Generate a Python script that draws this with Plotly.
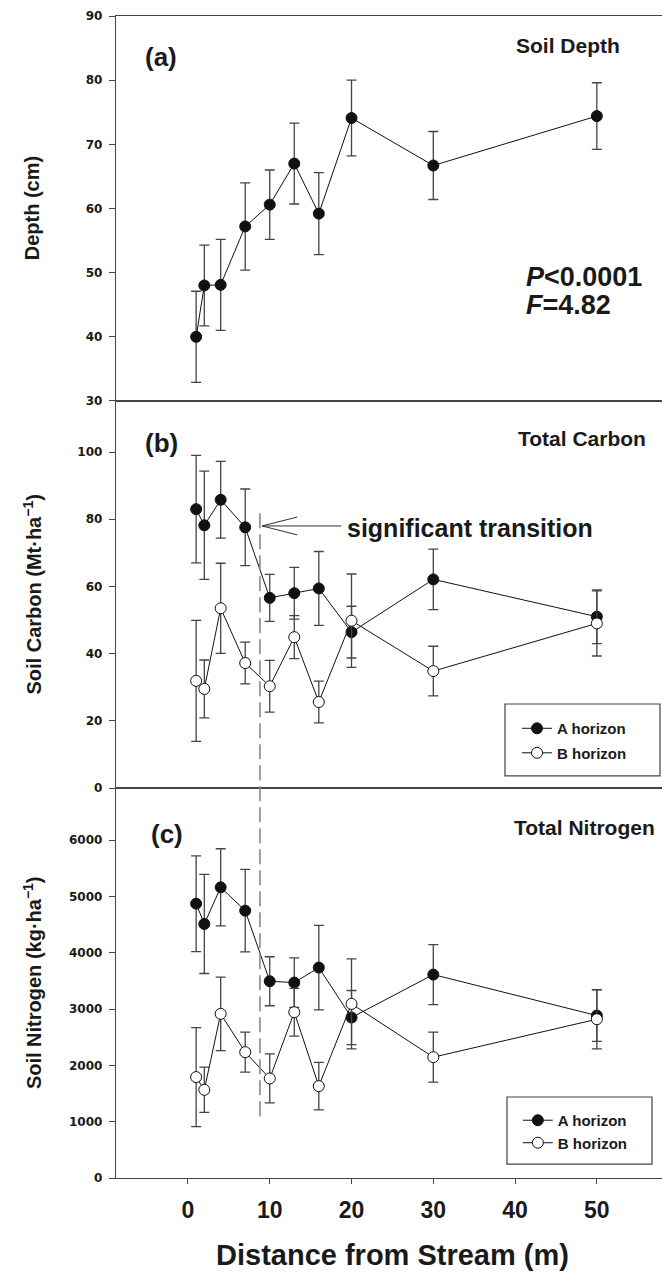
import plotly.graph_objects as go

# ---------------- data ----------------
distance = [1, 2, 4, 7, 10, 13, 16, 20, 30, 50]

depth_mean = [40.0, 48.0, 48.1, 57.2, 60.6, 67.0, 59.2, 74.1, 66.7, 74.4]
depth_err = [7.1, 6.3, 7.1, 6.8, 5.4, 6.3, 6.4, 5.9, 5.3, 5.2]

carbon_a = [83.0, 78.2, 85.8, 77.6, 56.6, 58.0, 59.4, 46.4, 62.1, 51.0]
carbon_a_err = [16.0, 16.1, 11.4, 11.4, 7.0, 7.7, 11.0, 7.7, 9.0, 8.0]
carbon_b = [31.9, 29.5, 53.5, 37.2, 30.3, 44.9, 25.6, 49.8, 34.8, 49.0]
carbon_b_err = [18.0, 8.6, 13.4, 6.2, 7.7, 6.4, 6.2, 13.9, 7.4, 9.7]

nitrogen_a = [4870, 4510, 5160, 4746, 3493, 3469, 3735, 2849, 3611, 2884]
nitrogen_a_err = [850, 880, 685, 733, 435, 440, 750, 480, 532, 458]
nitrogen_b = [1791, 1566, 2914, 2234, 1767, 2943, 1631, 3091, 2145, 2819]
nitrogen_b_err = [878, 402, 653, 355, 435, 425, 420, 800, 444, 526]

x_ticks = [0, 10, 20, 30, 40, 50]
depth_ticks = [30, 40, 50, 60, 70, 80, 90]
carbon_ticks = [0, 20, 40, 60, 80, 100]
nitrogen_ticks = [0, 1000, 2000, 3000, 4000, 5000, 6000]

transition_x = 8.8
transition_top_carbon = 81.8
transition_bottom_nitrogen = 1030

# ---------------- styling ----------------
AX = "#444444"
BOLD_ARIAL = dict(family="Liberation Sans, Arial", weight="bold", color="#1a1a1a")
BOLD_WIDE = dict(family="DejaVu Sans, Verdana", weight="bold", color="#1a1a1a", size=12)

x_range = [-8.8, 58.7]
rng_a, rng_b, rng_c = [30, 90], [0, 115.2], [0, 6923]
dom_a, dom_b, dom_c = [0.6687, 1.0], [0.3356, 0.6687], [0.0, 0.3356]


def to_paper(v, rng, dom):
    return dom[0] + (v - rng[0]) / (rng[1] - rng[0]) * (dom[1] - dom[0])


fig = go.Figure()


def add_series(y, err, xa, ya, filled, name=None, legend=None, group=None):
    fig.add_trace(go.Scatter(
        x=distance, y=y, xaxis=xa, yaxis=ya,
        mode="lines+markers",
        name=name,
        showlegend=name is not None,
        legend=legend,
        legendgroup=group,
        line=dict(color="#111111", width=1),
        marker=dict(size=11, color="#111111" if filled else "white",
                    line=dict(color="#111111", width=1)),
        error_y=dict(type="data", array=err, visible=True,
                     color="#444444", thickness=1.3, width=5),
    ))


add_series(depth_mean, depth_err, "x", "y", True)
add_series(carbon_a, carbon_a_err, "x2", "y2", True, "A horizon", "legend", "ga")
add_series(carbon_b, carbon_b_err, "x2", "y2", False, "B horizon", "legend", "gb")
add_series(nitrogen_a, nitrogen_a_err, "x3", "y3", True, "A horizon", "legend2", "gc")
add_series(nitrogen_b, nitrogen_b_err, "x3", "y3", False, "B horizon", "legend2", "gd")

common_x = dict(range=x_range, showline=True, mirror=True, linecolor=AX, linewidth=1.4,
                showgrid=False, zeroline=False, tickvals=x_ticks, automargin=False)
common_y = dict(showline=True, mirror=True, linecolor=AX, linewidth=1.4,
                showgrid=False, zeroline=False, ticks="outside", ticklen=6,
                tickcolor=AX, tickwidth=1.2, tickfont=BOLD_WIDE, ticklabelstandoff=4,
                automargin=False)

fig.update_layout(
    xaxis=dict(common_x, domain=[0, 1], anchor="y", showticklabels=False, ticks=""),
    xaxis2=dict(common_x, domain=[0, 1], anchor="y2", showticklabels=False, ticks=""),
    xaxis3=dict(common_x, domain=[0, 1], anchor="y3", ticks="outside", ticklen=5,
                tickcolor=AX, tickwidth=1.2,
                tickfont=dict(BOLD_ARIAL, size=23), ticklabelstandoff=6),
    yaxis=dict(common_y, domain=dom_a, range=rng_a, tickvals=depth_ticks, anchor="x"),
    yaxis2=dict(common_y, domain=dom_b, range=rng_b, tickvals=carbon_ticks, anchor="x2"),
    yaxis3=dict(common_y, domain=dom_c, range=rng_c, tickvals=nitrogen_ticks, anchor="x3"),
)

# legends
legend_font = dict(BOLD_ARIAL, size=15)
fig.update_layout(
    legend=dict(x=0.7265, y=0.4010, xanchor="left", yanchor="top", bgcolor="rgba(0,0,0,0)",
                borderwidth=0, font=legend_font, tracegroupgap=2),
    legend2=dict(x=0.7280, y=0.0637, xanchor="left", yanchor="top", bgcolor="rgba(0,0,0,0)",
                 borderwidth=0, font=legend_font, tracegroupgap=0),
)

shapes = [
    # legend frames
    dict(type="rect", xref="paper", yref="paper", x0=0.7047, x1=0.9855, y0=0.3460, y1=0.4079,
         line=dict(color=AX, width=1.2), fillcolor="white", layer="below"),
    dict(type="rect", xref="paper", yref="paper", x0=0.7083, x1=0.9710, y0=0.0120, y1=0.0697,
         line=dict(color=AX, width=1.2), fillcolor="white", layer="below"),
    # dashed transition line across panels b and c
    dict(type="line", xref="x", yref="paper", x0=transition_x, x1=transition_x,
         y0=to_paper(transition_top_carbon, rng_b, dom_b),
         y1=to_paper(transition_bottom_nitrogen, rng_c, dom_c),
         line=dict(color="#888888", width=1.6, dash="15px,6px")),
]
# open arrow pointing to transition
arrow_y = 78.0
shapes += [
    dict(type="line", xref="x2", yref="y2", x0=9.07, x1=18.75, y0=arrow_y, y1=arrow_y,
         line=dict(color="#333333", width=1)),
    dict(type="line", xref="x2", yref="y2", x0=9.07, x1=13.36, y0=arrow_y, y1=arrow_y + 2.65,
         line=dict(color="#333333", width=1)),
    dict(type="line", xref="x2", yref="y2", x0=9.07, x1=13.36, y0=arrow_y, y1=arrow_y - 2.65,
         line=dict(color="#333333", width=1)),
]
fig.update_layout(shapes=shapes)


def ann(text, x, y, size, xanchor="left", xref="paper", yref="paper", angle=0, font=None,
        yanchor="middle"):
    f = dict(font or BOLD_ARIAL, size=size)
    return dict(text=text, x=x, y=y, xref=xref, yref=yref, xanchor=xanchor,
                yanchor=yanchor, showarrow=False, textangle=angle, font=f)


annotations = [
    ann("(a)", 0.0489, 0.9647, 26),
    ann("(b)", 0.0489, 0.6325, 26),
    ann("(c)", 0.0598, 0.2960, 26),
    ann("Soil Depth", 0.7210, 0.9742, 21),
    ann("Total Carbon", 0.7246, 0.6368, 21),
    ann("Total Nitrogen", 0.7174, 0.3020, 21),
    ann("<i>P</i>&lt;0.0001", 0.7390, 0.7754, 27),
    ann("<i>F</i>=4.82", 0.7390, 0.7513, 27),
    ann("significant transition", 19.24, 77.4, 25, xref="x2", yref="y2"),
    ann("Depth (cm)", -0.152, 0.8346, 20, xanchor="center", angle=-90),
    ann("Soil Carbon (Mt·ha<sup>−1</sup>)", -0.152, 0.5022, 20, xanchor="center", angle=-90),
    ann("Soil Nitrogen (kg·ha<sup>−1</sup>)", -0.152, 0.1678, 20, xanchor="center", angle=-90),
    ann("Distance from Stream (m)", 0.5, -0.0818, 29, xanchor="center", yanchor="bottom"),
]
fig.update_layout(annotations=annotations)

# the page body adds an 8px offset; size the figure so the plot lands where the reference has it
fig.update_layout(
    width=662, height=1267,
    margin=dict(l=108, r=2, t=8, b=97),
    paper_bgcolor="white", plot_bgcolor="white",
)

fig.write_html("out.html")
